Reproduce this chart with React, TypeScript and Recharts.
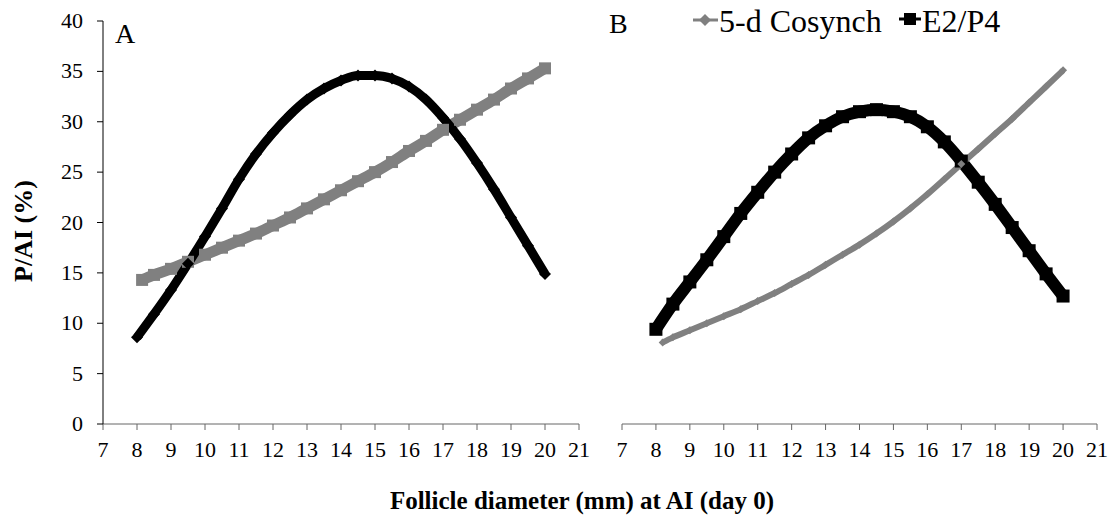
import React from 'react';
import { LineChart, Line, XAxis, YAxis } from 'recharts';

const xTicks = [7, 8, 9, 10, 11, 12, 13, 14, 15, 16, 17, 18, 19, 20, 21];
const yTicks = [0, 5, 10, 15, 20, 25, 30, 35, 40];

const seriesNames = ['5-d Cosynch', 'E2/P4'];
const panelLabels = ['A', 'B'];
const xAxisTitle = 'Follicle diameter (mm) at AI (day 0)';
const yAxisTitle = 'P/AI (%)';

// Panel A
const aCosynchX = [8.15, 8.5, 9, 9.5, 10, 10.5, 11, 11.5, 12, 12.5, 13, 13.5, 14, 14.5, 15, 15.5, 16, 16.5, 17, 17.5, 18, 18.5, 19, 19.5, 20];
const aCosynchY = [14.3, 14.8, 15.4, 16.1, 16.8, 17.5, 18.2, 18.9, 19.7, 20.5, 21.4, 22.3, 23.2, 24.1, 25.0, 26.0, 27.1, 28.1, 29.2, 30.2, 31.2, 32.2, 33.3, 34.3, 35.3];
const aE2P4X = [8, 8.5, 9, 9.5, 10, 10.5, 11, 11.5, 12, 12.5, 13, 13.5, 14, 14.5, 15, 15.5, 16, 16.5, 17, 17.5, 18, 18.5, 19, 19.5, 20];
const aE2P4Y = [8.6, 10.9, 13.3, 15.9, 18.6, 21.4, 24.3, 26.8, 28.9, 30.7, 32.2, 33.3, 34.1, 34.6, 34.6, 34.3, 33.5, 32.2, 30.4, 28.3, 25.9, 23.3, 20.5, 17.7, 14.9];

// Panel B
const bCosynchX = [8.2, 8.5, 9, 9.5, 10, 10.5, 11, 11.5, 12, 12.5, 13, 13.5, 14, 14.5, 15, 15.5, 16, 16.5, 17, 17.5, 18, 18.5, 19, 19.5, 20];
const bCosynchY = [8.1, 8.6, 9.3, 10.0, 10.7, 11.4, 12.2, 13.0, 13.9, 14.8, 15.8, 16.8, 17.8, 18.9, 20.1, 21.4, 22.8, 24.3, 25.8, 27.3, 28.8, 30.3, 31.9, 33.5, 35.1];
const bE2P4X = [8, 8.5, 9, 9.5, 10, 10.5, 11, 11.5, 12, 12.5, 13, 13.5, 14, 14.5, 15, 15.5, 16, 16.5, 17, 17.5, 18, 18.5, 19, 19.5, 20];
const bE2P4Y = [9.4, 11.9, 14.1, 16.3, 18.6, 20.9, 23.0, 25.0, 26.8, 28.4, 29.6, 30.5, 31.0, 31.2, 31.0, 30.5, 29.5, 28.0, 26.1, 24.0, 21.8, 19.5, 17.2, 14.9, 12.7];

const toData = (xs: number[], ys: number[]) => xs.map((x, i) => ({ x, y: ys[i] }));

const GREY = '#808080';
const BLACK = '#000000';
const FONT = "'Liberation Serif', 'Times New Roman', serif";

const diamond = (color: string, size: number) => (props: any) => {
  const { cx, cy, index } = props;
  if (cx == null || cy == null) return <g key={`dm-${index}`} />;
  const h = size / 2;
  return (
    <path
      key={`dm-${index}`}
      d={`M${cx},${cy - h} L${cx + h},${cy} L${cx},${cy + h} L${cx - h},${cy} Z`}
      fill={color}
      stroke="none"
    />
  );
};

const square = (color: string, size: number) => (props: any) => {
  const { cx, cy, index } = props;
  if (cx == null || cy == null) return <g key={`sq-${index}`} />;
  const h = size / 2;
  return <rect key={`sq-${index}`} x={cx - h} y={cy - h} width={size} height={size} fill={color} stroke="none" />;
};

const XTick = (props: any) => {
  const { x, y, payload } = props;
  return (
    <text x={x} y={y + 17} textAnchor="middle" fontFamily={FONT} fontSize={22} fill="#000">
      {payload.value}
    </text>
  );
};

const YTick = (props: any) => {
  const { x, y, payload } = props;
  return (
    <text x={x} y={y + 7} textAnchor="end" fontFamily={FONT} fontSize={22} fill="#000">
      {payload.value}
    </text>
  );
};

export default function App() {
  return (
    <div style={{ position: 'absolute', left: 0, top: 0, width: 1112, height: 517, background: '#fff', fontFamily: FONT }}>
      <div style={{ position: 'absolute', left: 0, top: 0 }}>
        <LineChart width={590} height={517} margin={{ top: 21, right: 11, bottom: 0, left: 0 }}>
          <XAxis
            type="number"
            dataKey="x"
            domain={[7, 21]}
            ticks={xTicks}
            interval={0}
            allowDataOverflow
            height={93}
            tickSize={6}
            tickMargin={10}
            stroke="#666"
            tick={<XTick />}
          />
          <YAxis
            type="number"
            dataKey="y"
            domain={[0, 40]}
            ticks={yTicks}
            interval={0}
            width={103}
            tickSize={6}
            tickMargin={14}
            stroke="#000"
            tick={<YTick />}
          />
          <Line
            data={toData(aCosynchX, aCosynchY)}
            dataKey="y"
            type="monotone"
            stroke={GREY}
            strokeWidth={11}
            dot={square(GREY, 12)}
            activeDot={false}
            isAnimationActive={false}
          />
          <Line
            data={toData(aE2P4X, aE2P4Y)}
            dataKey="y"
            type="monotone"
            stroke={BLACK}
            strokeWidth={9}
            dot={diamond(BLACK, 12)}
            activeDot={false}
            isAnimationActive={false}
          />
        </LineChart>
      </div>
      <div style={{ position: 'absolute', left: 590, top: 0 }}>
        <LineChart width={522} height={517} margin={{ top: 21, right: 15, bottom: 0, left: 32 }}>
          <XAxis
            type="number"
            dataKey="x"
            domain={[7, 21]}
            ticks={xTicks}
            interval={0}
            allowDataOverflow
            height={93}
            tickSize={6}
            tickMargin={10}
            stroke="#666"
            tick={<XTick />}
          />
          <YAxis type="number" dataKey="y" domain={[0, 40]} ticks={yTicks} hide />
          <Line
            data={toData(bE2P4X, bE2P4Y)}
            dataKey="y"
            type="monotone"
            stroke={BLACK}
            strokeWidth={12}
            dot={square(BLACK, 13)}
            activeDot={false}
            isAnimationActive={false}
          />
          <Line
            data={toData(bCosynchX, bCosynchY)}
            dataKey="y"
            type="monotone"
            stroke={GREY}
            strokeWidth={6}
            dot={diamond(GREY, 8)}
            activeDot={false}
            isAnimationActive={false}
          />
        </LineChart>
      </div>
      <svg width={1112} height={517} style={{ position: 'absolute', left: 0, top: 0, pointerEvents: 'none' }}>
        <text x={115} y={43} fontFamily={FONT} fontSize={28} fill="#000">{panelLabels[0]}</text>
        <text x={609} y={33} fontFamily={FONT} fontSize={28} fill="#000">{panelLabels[1]}</text>
        <line x1={693} y1={20} x2={718} y2={20} stroke={GREY} strokeWidth={3} />
        <path d="M705,14 L711,20 L705,26 L699,20 Z" fill={GREY} />
        <text x={719} y={32} fontFamily={FONT} fontSize={32} fill="#000">{seriesNames[0]}</text>
        <line x1={899} y1={19} x2={921} y2={19} stroke={BLACK} strokeWidth={3} />
        <rect x={904} y={13} width={12} height={12} fill={BLACK} />
        <text x={922} y={32} fontFamily={FONT} fontSize={32} fill="#000">{seriesNames[1]}</text>
        <text x={582} y={509} textAnchor="middle" fontFamily={FONT} fontSize={25} fontWeight="bold" fill="#000">{xAxisTitle}</text>
        <text transform="translate(32,231) rotate(-90)" x={0} y={0} textAnchor="middle" fontFamily={FONT} fontSize={26} fontWeight="bold" fill="#000">{yAxisTitle}</text>
      </svg>
    </div>
  );
}
